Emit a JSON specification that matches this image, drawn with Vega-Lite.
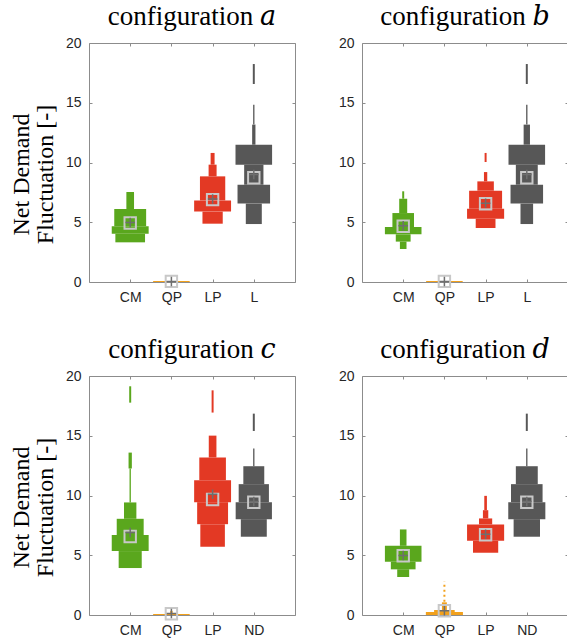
{
"$schema":"https://vega.github.io/schema/vega-lite/v6.json",
"padding":{"left":8,"top":2,"right":0,"bottom":0},
"datasets":{
"boxes":[
{"p":"a","cat":1,"s":"CM","lo":3.32,"hi":4.04,"d":0.36},
{"p":"a","cat":1,"s":"CM","lo":4.04,"hi":4.66,"d":0.448},
{"p":"a","cat":1,"s":"CM","lo":4.66,"hi":6.11,"d":0.387},
{"p":"a","cat":1,"s":"CM","lo":6.11,"hi":7.53,"d":0.093},
{"p":"a","cat":2,"s":"QP","lo":0,"hi":0.08,"d":0.444},
{"p":"a","cat":3,"s":"LP","lo":4.88,"hi":5.89,"d":0.246},
{"p":"a","cat":3,"s":"LP","lo":5.89,"hi":6.83,"d":0.448},
{"p":"a","cat":3,"s":"LP","lo":6.83,"hi":8.84,"d":0.307},
{"p":"a","cat":3,"s":"LP","lo":8.84,"hi":9.82,"d":0.097},
{"p":"a","cat":3,"s":"LP","lo":9.82,"hi":10.8,"d":0.048},
{"p":"a","cat":4,"s":"L","lo":4.85,"hi":6.56,"d":0.194},
{"p":"a","cat":4,"s":"L","lo":6.56,"hi":8.14,"d":0.395},
{"p":"a","cat":4,"s":"L","lo":8.14,"hi":9.82,"d":0.234},
{"p":"a","cat":4,"s":"L","lo":9.82,"hi":11.49,"d":0.444},
{"p":"a","cat":4,"s":"L","lo":11.49,"hi":13.17,"d":0.04},
{"p":"a","cat":4,"s":"L","lo":13.17,"hi":14.84,"d":0.016},
{"p":"a","cat":4,"s":"L","lo":16.57,"hi":18.24,"d":0.024},
{"p":"b","cat":1,"s":"CM","lo":2.76,"hi":3.38,"d":0.08},
{"p":"b","cat":1,"s":"CM","lo":3.38,"hi":3.99,"d":0.18},
{"p":"b","cat":1,"s":"CM","lo":3.99,"hi":4.6,"d":0.444},
{"p":"b","cat":1,"s":"CM","lo":4.6,"hi":5.77,"d":0.262},
{"p":"b","cat":1,"s":"CM","lo":5.77,"hi":6.97,"d":0.097},
{"p":"b","cat":1,"s":"CM","lo":6.97,"hi":7.59,"d":0.024},
{"p":"b","cat":2,"s":"QP","lo":0,"hi":0.08,"d":0.444},
{"p":"b","cat":3,"s":"LP","lo":4.52,"hi":5.3,"d":0.24},
{"p":"b","cat":3,"s":"LP","lo":5.3,"hi":6.14,"d":0.45},
{"p":"b","cat":3,"s":"LP","lo":6.14,"hi":7.64,"d":0.4},
{"p":"b","cat":3,"s":"LP","lo":7.64,"hi":8.42,"d":0.2},
{"p":"b","cat":3,"s":"LP","lo":8.42,"hi":9.2,"d":0.04},
{"p":"b","cat":3,"s":"LP","lo":10.04,"hi":10.8,"d":0.024},
{"p":"b","cat":4,"s":"L","lo":4.85,"hi":6.56,"d":0.153},
{"p":"b","cat":4,"s":"L","lo":6.56,"hi":8.14,"d":0.395},
{"p":"b","cat":4,"s":"L","lo":8.14,"hi":9.82,"d":0.266},
{"p":"b","cat":4,"s":"L","lo":9.82,"hi":11.49,"d":0.444},
{"p":"b","cat":4,"s":"L","lo":11.49,"hi":13.17,"d":0.077},
{"p":"b","cat":4,"s":"L","lo":13.17,"hi":14.84,"d":0.016},
{"p":"b","cat":4,"s":"L","lo":16.57,"hi":18.24,"d":0.024},
{"p":"c","cat":1,"s":"CM","lo":3.93,"hi":5.35,"d":0.28},
{"p":"c","cat":1,"s":"CM","lo":5.35,"hi":6.69,"d":0.448},
{"p":"c","cat":1,"s":"CM","lo":6.69,"hi":8.05,"d":0.327},
{"p":"c","cat":1,"s":"CM","lo":8.05,"hi":9.42,"d":0.15},
{"p":"c","cat":1,"s":"CM","lo":9.42,"hi":12.26,"d":0.016},
{"p":"c","cat":1,"s":"CM","lo":12.26,"hi":13.59,"d":0.04},
{"p":"c","cat":1,"s":"CM","lo":17.77,"hi":19.14,"d":0.024},
{"p":"c","cat":2,"s":"QP","lo":0,"hi":0.08,"d":0.444},
{"p":"c","cat":2,"s":"QP","lo":0.08,"hi":0.35,"d":0.03},
{"p":"c","cat":3,"s":"LP","lo":5.71,"hi":7.6,"d":0.298},
{"p":"c","cat":3,"s":"LP","lo":7.6,"hi":9.44,"d":0.375},
{"p":"c","cat":3,"s":"LP","lo":9.44,"hi":11.28,"d":0.448},
{"p":"c","cat":3,"s":"LP","lo":11.28,"hi":13.18,"d":0.323},
{"p":"c","cat":3,"s":"LP","lo":13.18,"hi":15.01,"d":0.093},
{"p":"c","cat":3,"s":"LP","lo":16.94,"hi":18.8,"d":0.024},
{"p":"c","cat":4,"s":"ND","lo":6.55,"hi":8.02,"d":0.315},
{"p":"c","cat":4,"s":"ND","lo":8.02,"hi":9.44,"d":0.44},
{"p":"c","cat":4,"s":"ND","lo":9.44,"hi":10.95,"d":0.367},
{"p":"c","cat":4,"s":"ND","lo":10.95,"hi":12.45,"d":0.254},
{"p":"c","cat":4,"s":"ND","lo":12.45,"hi":13.93,"d":0.016},
{"p":"c","cat":4,"s":"ND","lo":15.4,"hi":16.85,"d":0.024},
{"p":"d","cat":1,"s":"CM","lo":3.18,"hi":3.82,"d":0.145},
{"p":"d","cat":1,"s":"CM","lo":3.82,"hi":4.46,"d":0.3},
{"p":"d","cat":1,"s":"CM","lo":4.46,"hi":5.79,"d":0.444},
{"p":"d","cat":1,"s":"CM","lo":5.79,"hi":7.16,"d":0.08},
{"p":"d","cat":2,"s":"QP","lo":0,"hi":0.25,"d":0.45},
{"p":"d","cat":2,"s":"QP","lo":0.25,"hi":0.42,"d":0.25},
{"p":"d","cat":2,"s":"QP","lo":0.42,"hi":1.06,"d":0.06},
{"p":"d","cat":3,"s":"LP","lo":5.21,"hi":6.21,"d":0.306},
{"p":"d","cat":3,"s":"LP","lo":6.21,"hi":7.58,"d":0.45},
{"p":"d","cat":3,"s":"LP","lo":7.58,"hi":8.08,"d":0.16},
{"p":"d","cat":3,"s":"LP","lo":8.08,"hi":8.77,"d":0.065},
{"p":"d","cat":3,"s":"LP","lo":8.77,"hi":9.97,"d":0.032},
{"p":"d","cat":4,"s":"ND","lo":6.55,"hi":8.02,"d":0.32},
{"p":"d","cat":4,"s":"ND","lo":8.02,"hi":9.44,"d":0.45},
{"p":"d","cat":4,"s":"ND","lo":9.44,"hi":10.95,"d":0.383},
{"p":"d","cat":4,"s":"ND","lo":10.95,"hi":12.45,"d":0.266},
{"p":"d","cat":4,"s":"ND","lo":12.45,"hi":13.93,"d":0.016},
{"p":"d","cat":4,"s":"ND","lo":15.4,"hi":16.85,"d":0.024}
],
"stats":[
{"p":"a","cat":1,"s":"CM","median":4.94,"mean":4.98},
{"p":"a","cat":2,"s":"QP","median":0.05,"mean":0.05},
{"p":"a","cat":3,"s":"LP","median":6.89,"mean":6.95},
{"p":"a","cat":4,"s":"L","median":8.73,"mean":9.0},
{"p":"b","cat":1,"s":"CM","median":4.66,"mean":4.7},
{"p":"b","cat":2,"s":"QP","median":0.05,"mean":0.05},
{"p":"b","cat":3,"s":"LP","median":6.55,"mean":6.6},
{"p":"b","cat":4,"s":"L","median":8.73,"mean":9.0},
{"p":"c","cat":1,"s":"CM","median":6.57,"mean":6.9},
{"p":"c","cat":2,"s":"QP","median":0.1,"mean":0.12},
{"p":"c","cat":3,"s":"LP","median":9.67,"mean":10.1},
{"p":"c","cat":4,"s":"ND","median":9.44,"mean":9.5},
{"p":"d","cat":1,"s":"CM","median":4.96,"mean":4.98},
{"p":"d","cat":2,"s":"QP","median":0.35,"mean":0.35},
{"p":"d","cat":3,"s":"LP","median":6.71,"mean":6.75},
{"p":"d","cat":4,"s":"ND","median":9.44,"mean":9.5}
],
"tails":[
{"p":"d","cat":2,"s":"QP","lo":1.1,"hi":2.8}
]
},
"vconcat":[
{"hconcat":[
{"width":206,"height":239,"title":{"text":"configuration 𝑎"},
"layer":[
{"data":{"name":"boxes"},"transform":[{"filter":"datum.p=='a'"},{"calculate":"datum.cat-datum.d","as":"x1"},{"calculate":"datum.cat+datum.d","as":"x2"}],
"mark":{"type":"rect","strokeWidth":0},
"encoding":{"x":{"field":"x1","type":"quantitative","scale":{"domain":[0,5],"nice":false},"axis":{"orient":"bottom","values":[1,2,3,4],"labelExpr":"['','CM','QP','LP','L'][datum.value]","title":null}},
"x2":{"field":"x2"},
"y":{"field":"lo","type":"quantitative","scale":{"domain":[0,20],"nice":false},"axis":{"orient":"left","values":[0,5,10,15,20],"title":["Net Demand","Fluctuation [-]"],"titleY":131}},
"y2":{"field":"hi"},
"color":{"field":"s","type":"nominal","scale":{"domain":["CM","QP","LP","L","ND"],"range":["#5aa71d","#f2a11c","#e33924","#575757","#575757"]},"legend":null}}},
{"data":{"name":"stats"},"transform":[{"filter":"datum.p=='a'"}],
"mark":{"type":"point","shape":"square","filled":false,"stroke":"#c8c8c8","strokeWidth":2,"size":130,"opacity":1,"clip":false},
"encoding":{"x":{"field":"cat","type":"quantitative","axis":{"orient":"top","values":[1,2,3,4],"labels":false,"title":null}},
"y":{"field":"median","type":"quantitative","axis":{"orient":"right","values":[0,5,10,15,20],"labels":false,"title":null}}}},
{"data":{"name":"stats"},"transform":[{"filter":"datum.p=='a'"}],
"mark":{"type":"point","shape":"M-1,0L1,0M0,-1L0,1","filled":false,"stroke":"#6e6e6e","strokeWidth":1.5,"size":90,"opacity":1,"clip":false},
"encoding":{"x":{"field":"cat","type":"quantitative","axis":null},"y":{"field":"mean","type":"quantitative","axis":null}}}
],
"resolve":{"axis":{"x":"independent","y":"independent"}}},
{"width":206,"height":239,"title":{"text":"configuration 𝑏"},
"layer":[
{"data":{"name":"boxes"},"transform":[{"filter":"datum.p=='b'"},{"calculate":"datum.cat-datum.d","as":"x1"},{"calculate":"datum.cat+datum.d","as":"x2"}],
"mark":{"type":"rect","strokeWidth":0},
"encoding":{"x":{"field":"x1","type":"quantitative","scale":{"domain":[0,5],"nice":false},"axis":{"orient":"bottom","values":[1,2,3,4],"labelExpr":"['','CM','QP','LP','L'][datum.value]","title":null}},
"x2":{"field":"x2"},
"y":{"field":"lo","type":"quantitative","scale":{"domain":[0,20],"nice":false},"axis":{"orient":"left","values":[0,5,10,15,20],"title":null}},
"y2":{"field":"hi"},
"color":{"field":"s","type":"nominal","scale":{"domain":["CM","QP","LP","L","ND"],"range":["#5aa71d","#f2a11c","#e33924","#575757","#575757"]},"legend":null}}},
{"data":{"name":"stats"},"transform":[{"filter":"datum.p=='b'"}],
"mark":{"type":"point","shape":"square","filled":false,"stroke":"#c8c8c8","strokeWidth":2,"size":130,"opacity":1,"clip":false},
"encoding":{"x":{"field":"cat","type":"quantitative","axis":{"orient":"top","values":[1,2,3,4],"labels":false,"title":null}},
"y":{"field":"median","type":"quantitative","axis":{"orient":"right","values":[0,5,10,15,20],"labels":false,"title":null}}}},
{"data":{"name":"stats"},"transform":[{"filter":"datum.p=='b'"}],
"mark":{"type":"point","shape":"M-1,0L1,0M0,-1L0,1","filled":false,"stroke":"#6e6e6e","strokeWidth":1.5,"size":90,"opacity":1,"clip":false},
"encoding":{"x":{"field":"cat","type":"quantitative","axis":null},"y":{"field":"mean","type":"quantitative","axis":null}}}
],
"resolve":{"axis":{"x":"independent","y":"independent"}}}
],"spacing":41},
{"hconcat":[
{"width":206,"height":239,"title":{"text":"configuration 𝑐"},
"layer":[
{"data":{"name":"boxes"},"transform":[{"filter":"datum.p=='c'"},{"calculate":"datum.cat-datum.d","as":"x1"},{"calculate":"datum.cat+datum.d","as":"x2"}],
"mark":{"type":"rect","strokeWidth":0},
"encoding":{"x":{"field":"x1","type":"quantitative","scale":{"domain":[0,5],"nice":false},"axis":{"orient":"bottom","values":[1,2,3,4],"labelExpr":"['','CM','QP','LP','ND'][datum.value]","title":null}},
"x2":{"field":"x2"},
"y":{"field":"lo","type":"quantitative","scale":{"domain":[0,20],"nice":false},"axis":{"orient":"left","values":[0,5,10,15,20],"title":["Net Demand","Fluctuation [-]"],"titleY":131}},
"y2":{"field":"hi"},
"color":{"field":"s","type":"nominal","scale":{"domain":["CM","QP","LP","L","ND"],"range":["#5aa71d","#f2a11c","#e33924","#575757","#575757"]},"legend":null}}},
{"data":{"name":"stats"},"transform":[{"filter":"datum.p=='c'"}],
"mark":{"type":"point","shape":"square","filled":false,"stroke":"#c8c8c8","strokeWidth":2,"size":130,"opacity":1,"clip":false},
"encoding":{"x":{"field":"cat","type":"quantitative","axis":{"orient":"top","values":[1,2,3,4],"labels":false,"title":null}},
"y":{"field":"median","type":"quantitative","axis":{"orient":"right","values":[0,5,10,15,20],"labels":false,"title":null}}}},
{"data":{"name":"stats"},"transform":[{"filter":"datum.p=='c'"}],
"mark":{"type":"point","shape":"M-1,0L1,0M0,-1L0,1","filled":false,"stroke":"#6e6e6e","strokeWidth":1.5,"size":90,"opacity":1,"clip":false},
"encoding":{"x":{"field":"cat","type":"quantitative","axis":null},"y":{"field":"mean","type":"quantitative","axis":null}}}
],
"resolve":{"axis":{"x":"independent","y":"independent"}}},
{"width":206,"height":239,"title":{"text":"configuration 𝑑"},
"layer":[
{"data":{"name":"boxes"},"transform":[{"filter":"datum.p=='d'"},{"calculate":"datum.cat-datum.d","as":"x1"},{"calculate":"datum.cat+datum.d","as":"x2"}],
"mark":{"type":"rect","strokeWidth":0},
"encoding":{"x":{"field":"x1","type":"quantitative","scale":{"domain":[0,5],"nice":false},"axis":{"orient":"bottom","values":[1,2,3,4],"labelExpr":"['','CM','QP','LP','ND'][datum.value]","title":null}},
"x2":{"field":"x2"},
"y":{"field":"lo","type":"quantitative","scale":{"domain":[0,20],"nice":false},"axis":{"orient":"left","values":[0,5,10,15,20],"title":null}},
"y2":{"field":"hi"},
"color":{"field":"s","type":"nominal","scale":{"domain":["CM","QP","LP","L","ND"],"range":["#5aa71d","#f2a11c","#e33924","#575757","#575757"]},"legend":null}}},
{"data":{"name":"tails"},"mark":{"type":"rule","color":"#f2a11c","strokeWidth":2,"strokeDash":[2,3]},
"encoding":{"x":{"field":"cat","type":"quantitative","axis":null},"y":{"field":"lo","type":"quantitative","axis":null},"y2":{"field":"hi"}}},
{"data":{"name":"stats"},"transform":[{"filter":"datum.p=='d'"}],
"mark":{"type":"point","shape":"square","filled":false,"stroke":"#c8c8c8","strokeWidth":2,"size":130,"opacity":1,"clip":false},
"encoding":{"x":{"field":"cat","type":"quantitative","axis":{"orient":"top","values":[1,2,3,4],"labels":false,"title":null}},
"y":{"field":"median","type":"quantitative","axis":{"orient":"right","values":[0,5,10,15,20],"labels":false,"title":null}}}},
{"data":{"name":"stats"},"transform":[{"filter":"datum.p=='d'"}],
"mark":{"type":"point","shape":"M-1,0L1,0M0,-1L0,1","filled":false,"stroke":"#6e6e6e","strokeWidth":1.5,"size":90,"opacity":1,"clip":false},
"encoding":{"x":{"field":"cat","type":"quantitative","axis":null},"y":{"field":"mean","type":"quantitative","axis":null}}}
],
"resolve":{"axis":{"x":"independent","y":"independent"}}}
],"spacing":41}
],
"spacing":30,
"config":{
"view":{"stroke":"#8c8c8c","strokeWidth":1},
"axis":{"domain":false,"grid":false,"tickColor":"#8c8c8c","tickSize":-3,"labelFont":"Liberation Sans","labelFontSize":14,"labelColor":"#262626","titleFont":"Liberation Serif","titleFontSize":24,"titleFontWeight":"normal","titleColor":"#000000","titlePadding":8,"titleLineHeight":24},
"axisY":{"labelPadding":11},
"axisX":{"labelPadding":11},
"title":{"font":"Liberation Serif, DejaVu Serif, serif","fontSize":27,"fontWeight":"normal","color":"#000000","frame":"group","anchor":"middle","offset":5}
}
}
